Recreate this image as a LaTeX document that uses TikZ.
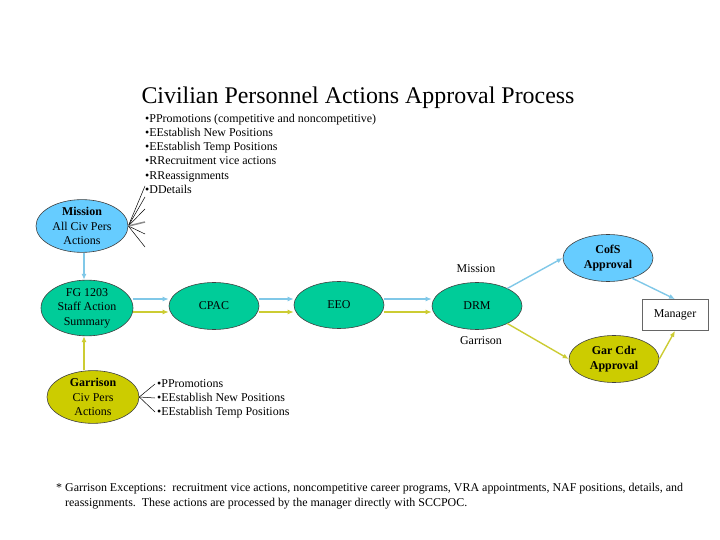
\documentclass[tikz,border=0pt]{standalone}
\usepackage{fontspec}
\setmainfont{Liberation Serif}
\usetikzlibrary{shapes.geometric,arrows.meta}
\definecolor{MisBlue}{HTML}{66CCFF}
\definecolor{StaffGreen}{HTML}{00CC99}
\definecolor{GarYellow}{HTML}{CCCC00}
\definecolor{LinkBlue}{HTML}{80C8E8}
\definecolor{LinkYellow}{HTML}{CCCC33}
\begin{document}
\begin{tikzpicture}[x=1bp,y=-1bp,>={Latex[length=6pt,width=5pt]}]
  \tikzstyle{actnode}=[ellipse,draw=black!75,line width=0.6pt,inner sep=0pt,
    minimum width=90bp,minimum height=47bp,align=center,
    font=\fontsize{12}{14.5}\selectfont]
  \tikzstyle{srcnode}=[actnode,minimum width=92bp,minimum height=49bp]
  \tikzstyle{bluelink}=[->,line width=1.4pt,color=LinkBlue]
  \tikzstyle{yellowlink}=[->,line width=1.4pt,color=LinkYellow]
  \tikzstyle{listtext}=[align=left,inner sep=0pt,font=\fontsize{12}{14.2}\selectfont]
  \useasboundingbox[fill=white] (0,0) rectangle (720,540);

  \node[font=\fontsize{24}{28}\selectfont] (title) at (358,98)
    {Civilian Personnel Actions Approval Process};
  \node[listtext,anchor=north west] (mislist) at (145,114)
    {•PPromotions (competitive and noncompetitive)\\
     •EEstablish New Positions\\
     •EEstablish Temp Positions\\
     •RRecruitment vice actions\\
     •RReassignments\\
     •DDetails};

  % left column
  \node[srcnode,fill=MisBlue] (mis) at (82,226)
    {\textbf{Mission}\\All Civ Pers\\Actions};
  \node[srcnode,fill=StaffGreen] (fg) at (87,308)
    {FG 1203\\Staff Action\\Summary};
  \node[srcnode,fill=GarYellow] (gar) at (93,397)
    {\textbf{Garrison}\\Civ Pers\\Actions};
  \node[listtext,anchor=north west] (garlist) at (157,379)
    {•PPromotions\\
     •EEstablish New Positions\\
     •EEstablish Temp Positions};

  % main line
  \node[actnode,fill=StaffGreen] (cpac) at (214,306) {CPAC};
  \node[actnode,fill=StaffGreen] (eeo) at (339,305) {EEO};
  \node[actnode,fill=StaffGreen] (drm) at (477,306) {DRM};
  \node[actnode,fill=MisBlue] (cofs) at (608,258) {\textbf{CofS}\\\textbf{Approval}};
  \node[actnode,fill=GarYellow] (gcdr) at (614,359) {\textbf{Gar Cdr}\\\textbf{Approval}};
  \node[draw=black!60,line width=0.8pt,minimum width=66bp,minimum height=31bp,
    inner sep=0pt,font=\fontsize{12}{14}\selectfont] (mgr) at (675,315) {Manager};
  \node[font=\fontsize{12}{14}\selectfont] (mislbl) at (476,269) {Mission};
  \node[font=\fontsize{12}{14}\selectfont] (garlbl) at (481,341) {Garrison};

  % fans to the lists
  \foreach \y [count=\i] in {186,197,209,222,234,247}
    \coordinate (mf\i) at (145,\y);
  \foreach \i in {1,2,3,5,6}
    \draw[line width=0.5pt] (mis.east) -- (mf\i);
  \draw[line width=1.5pt,color=black!45] (mis.east) -- (mf4);
  \foreach \y [count=\i] in {384,398,412}
    \coordinate (gf\i) at (155,\y);
  \foreach \i in {1,2,3}
    \draw[line width=0.5pt] (gar.east) -- (gf\i);

  % links
  \draw[bluelink] (mis.south -| 84,0) -- (fg.north -| 84,0);
  \draw[yellowlink] (gar.north -| 84,0) -- (fg.south -| 84,0);
  \draw[bluelink] (fg.east |- 0,299) -- (cpac.west |- 0,299);
  \draw[yellowlink] (fg.east |- 0,312) -- (cpac.west |- 0,312);
  \draw[bluelink] (cpac.east |- 0,299) -- (eeo.west |- 0,299);
  \draw[yellowlink] (cpac.east |- 0,312) -- (eeo.west |- 0,312);
  \draw[bluelink] (eeo.east |- 0,299) -- (drm.west |- 0,299);
  \draw[yellowlink] (eeo.east |- 0,312) -- (drm.west |- 0,312);
  \draw[bluelink] (drm.30) -- (cofs.west);
  \draw[yellowlink] (drm.-30) -- (gcdr.west);
  \draw[bluelink] (cofs.-40) -- (mgr.north);
  \draw[yellowlink] (gcdr.east) -- (mgr.south);

  \node[listtext,anchor=north west,font=\fontsize{12}{15}\selectfont] (note) at (56,483)
    {* Garrison Exceptions:\ \ recruitment vice actions, noncompetitive career programs, VRA appointments, NAF positions, details, and\\
     \hspace*{9bp}reassignments.\ \ These actions are processed by the manager directly with SCCPOC.};
\end{tikzpicture}
\end{document}
